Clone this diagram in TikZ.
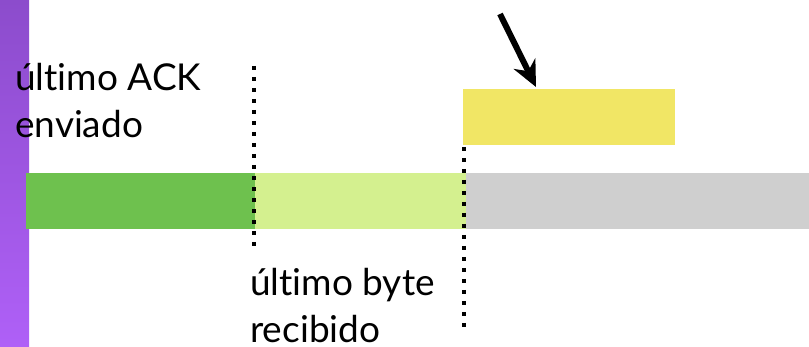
\documentclass[tikz,border=0pt]{standalone}
\usepackage{fontspec}
\setmainfont{Lato}[Ligatures=NoCommon]
\usetikzlibrary{arrows.meta}
\definecolor{sideTop}{HTML}{8C4CCC}
\definecolor{sideBot}{HTML}{AF60F7}
\definecolor{acked}{HTML}{6EC14E}
\definecolor{recvd}{HTML}{D4F08F}
\definecolor{freebuf}{HTML}{CFCFCF}
\definecolor{window}{HTML}{F1E665}

\begin{document}
\begin{tikzpicture}[x=1pt,y=-1pt,>=Stealth,
  bar/.style={inner sep=0,minimum height=56pt,anchor=north west},
  dots/.style={line width=4.5pt,dash pattern=on 4.5pt off 6.5pt},
  lbl/.style={font=\fontsize{37}{40}\selectfont,align=left,inner sep=0,anchor=base west}]
\useasboundingbox (0,0) rectangle (809,347);
\shade[top color=sideTop,bottom color=sideBot](0,0)rectangle(29,347);
% buffer
\node[bar,fill=acked,minimum width=229pt](acked) at (26,173){};
\node[bar,fill=recvd,minimum width=211pt](recvd) at (255,173){};
\node[bar,fill=freebuf,minimum width=343pt](freebuf) at (466,173){};
\node[bar,fill=window,minimum width=212pt](window) at (463,89){};
% marks
\coordinate (ackTop) at (254,66);
\coordinate (ackBot) at (254,250);
\coordinate (rcvTop) at (464,147);
\coordinate (rcvBot) at (464,330);
\draw[dots](ackTop)--(ackBot);
\draw[dots](rcvTop)--(rcvBot);
\coordinate (ptrTail) at (500,14);
\coordinate (ptrHead) at (536,87);
\draw[-{Stealth[length=26pt,width=24pt]},line width=6pt](ptrTail)--(ptrHead);
% labels
\node[lbl](ackLbl) at (15,138){último ACK\\[7pt]enviado};
\node[lbl](rcvLbl) at (250,343){último byte\\[7pt]recibido};
\end{tikzpicture}
\end{document}
